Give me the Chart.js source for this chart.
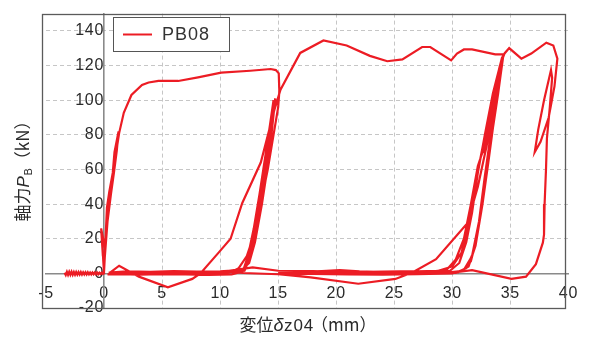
<!DOCTYPE html>
<html>
<head>
<meta charset="utf-8">
<title>PB08 軸力-変位</title>
<script src="https://cdn.jsdelivr.net/npm/chart.js@4/dist/chart.umd.min.js"></script>
<style>
  html, body { margin: 0; padding: 0; background: #fff; }
  canvas { display: block; }
</style>
</head>
<body>
<canvas id="c" width="589" height="341"></canvas>
<script>
// ---- data: axial force P_B (kN) vs displacement δz04 (mm), specimen PB08 ----
const SERIES_LABEL = 'PB08';

// drift before the first load cycle
const driftX = [-3.4, -3.3, -3.2, -3.1, -3.0, -2.9, -2.8, -2.7, -2.6, -2.5, -2.4, -2.3, -2.2, -2.1,
                -2.0, -1.9, -1.8, -1.7, -1.6, -1.5, -1.4, -1.3, -1.2, -1.1, -1.0, -0.9, -0.8, -0.7,
                -0.6, -0.5, -0.4, -0.3, -0.2, -0.1, 0];
const driftY = [0.4, -0.9, 0.9, -0.9, 0.9, -0.8, 0.9, -0.8, 0.8, -0.8, 0.8, -0.7, 0.7, -0.7,
                0.7, -0.7, 0.6, -0.6, 0.6, -0.6, 0.6, -0.6, 0.5, -0.6, 0.5, -0.5, 0.5, -0.5,
                0.5, -0.5, 0.4, -0.4, 0.4, -0.3, 0];

// small cycles at the origin, then yielding up to about 15 mm
const cycle1X = [0, -0.2, -0.1, -0.25, 0.1, 0.0, 0.25, 0.45, 0.75, 0.9, 1.25, 1.1, 0.85, 0.6, 0.3, 0.05,
                 0.1, 0.3, 0.5, 0.7, 1.0, 1.3, 1.7, 2.36, 3.27, 3.84, 4.69, 6.39, 8.1, 10.09, 12.6,
                 14.35, 14.8, 15.05, 15.1, 15.0];
const cycle1Y = [0, 22, 10, 26, 14, 1, 38, 47, 58, 70, 82, 71, 58, 46, 30, 8,
                 14, 34, 46, 56, 68, 81, 92.7, 103, 108.8, 110.2, 111.1, 111.1, 113.2, 115.9, 117,
                 118, 117.4, 115.5, 105, 96];

// unloading, slip back to the origin and two reloads near 12-15 mm
const cycle2X = [14.6, 14.1, 13.5, 12.9, 12.4, 11.9, 11.0, 9.0, 7.0, 5.0, 3.0, 1.5, 0.3,
                 1.5, 3.5, 5.5, 7.5, 9.5, 11.0, 11.6, 12.3, 12.8, 13.4, 13.9, 14.3, 14.6,
                 14.3, 13.9, 13.4, 12.9, 12.4, 12.0, 10.0, 8.0, 6.0, 4.0, 2.0, 0.4,
                 2.0, 4.0, 6.0, 8.0, 10.5, 11.8, 12.5, 13.0, 13.6, 14.1, 14.45, 14.75,
                 14.4, 14.0, 13.5, 13.0, 12.5, 12.1, 10.0, 8.0, 6.0, 4.0, 2.0, 0.5];
const cycle2Y = [80, 60, 40, 20, 8, 1, -0.6, -0.9, -0.6, -0.4, -0.7, -0.4, -0.6,
                 0.4, 0.2, 0.5, 0.3, 0.6, 1.0, 3, 10, 20, 40, 60, 80, 100,
                 86, 68, 46, 26, 10, 2, 1.2, 1.0, 1.3, 0.9, 1.1, 0.5,
                 0.0, -0.3, -0.2, -0.5, 0.4, 1.5, 6, 18, 40, 62, 82, 101,
                 85, 64, 42, 22, 8, 1.5, 0.2, -0.2, 0.1, -0.3, 0, -0.2];

// reload past the first peak onto the upper plateau
const cycle3X = [0.5, 1.3, 3.0, 5.5, 7.6, 8.3, 10.0, 10.9, 11.9, 13.5, 14.7, 15.2, 16.9, 18.9, 20.9,
                 22.9, 24.4, 25.7, 27.4, 28.1, 29.9, 30.4, 31.0, 31.7, 33.7, 34.4];
const cycle3Y = [0.3, 4.4, -1.9, -8, -3.2, 0, 13, 20, 40.5, 64, 95, 106, 127.3, 134.5, 131.6,
                 125.6, 122.5, 123.6, 130.7, 130.7, 123, 126.9, 129.3, 129.3, 126.5, 126.5];

// repeated unload / slip / reload cycles near 30-34 mm
const cycle4X = [33.9, 33.4, 32.9, 32.4, 31.8, 31.2, 30.3, 28.0, 25.0, 22.0, 20.3, 18.0, 16.0, 15.0,
                 17.0, 20.0, 23.0, 26.0, 28.5, 29.8, 30.6, 31.2, 31.7, 32.2, 32.8, 33.5, 34.3,
                 33.8, 33.3, 32.8, 32.3, 31.7, 31.0, 30.0, 27.0, 24.0, 21.0, 18.0, 16.5,
                 19.0, 22.0, 25.0, 28.0, 29.5, 30.3, 31.0, 31.6, 32.2, 32.6, 32.7, 33.1, 33.2, 33.7, 34.4,
                 33.9, 33.5, 33.0, 32.5, 32.0, 31.4, 30.5, 27.0, 24.0, 21.0, 18.0, 15.0, 12.8, 10.5,
                 12.0, 15.0, 17.8, 21.9, 25.1, 26.6, 28.6, 31.3, 32.2, 33.0, 33.6, 34.2, 34.4,
                 33.95, 33.5, 33.1, 32.6, 32.1, 31.6, 30.9, 29.0, 26.0, 23.0, 20.0, 17.0, 15.0,
                 17.0, 20.0, 23.0, 26.0, 28.8, 30.0, 30.8, 31.4, 32.0, 32.7, 33.4, 34.1, 34.5];
const cycle4Y = [105, 82, 58, 32, 12, 3, 0.3, 0.8, 0.5, 1.2, 1.9, 1.0, 0.8, 0.5,
                 0.2, -0.3, 0.2, 0.0, 0.6, 1.5, 6, 18, 35, 58, 80, 104, 125,
                 104, 80, 56, 30, 10, 2, 0, -0.5, -0.8, -0.6, -0.3, 0.0,
                 0.6, 0.9, 0.7, 0.9, 2, 8, 20, 40, 62, 70, 70, 87, 87, 106, 126,
                 102, 86, 62, 36, 16, 4, 0.5, 1.3, 1.0, 0.8, 1.3, 1.5, 3.4, 1.2,
                 0.2, -0.5, -2.3, -6, -3.2, 0.6, 8.2, 29, 50, 75, 100, 120, 126.5,
                 104, 84, 64, 40, 20, 7, 1.5, 0, 0.6, -0.4, 0.3, -0.4, 0,
                 0.5, 0.8, 0.4, 1.0, 1.5, 4, 12, 30, 52, 76, 100, 120, 127];

// last excursion to about 39 mm and final unloading
const cycle5X = [34.9, 35.95, 36.8, 38.1, 38.7, 39.05, 38.8, 38.3, 37.6, 37.1, 37.4, 37.9, 38.5,
                 38.6, 38.4, 38.15, 38.07, 37.95, 37.9, 37.8, 37.2, 36.35, 35.1, 31.7, 30.5, 29.5];
const cycle5Y = [130.1, 124, 126.9, 133.2, 131.6, 124, 108, 90, 76, 70, 83, 100, 117.4,
                 113, 96, 78, 60, 40, 22.4, 17.7, 5.3, -1.9, -3.2, 1.9, 0.8, 0.3];

// axis ticks and the extent of the plot frame
const X_TICKS = [-5, 0, 5, 10, 15, 20, 25, 30, 35, 40];
const Y_TICKS = [-20, 0, 20, 40, 60, 80, 100, 120, 140];
const FRAME_X = [-5.35, 39.75];
const FRAME_Y = [-20, 150];

// ---- build the single polyline from the stages above ----
function toPoints(xs, ys) { return xs.map((x, i) => ({ x: x, y: ys[i] })); }
const points = [].concat(
  toPoints(driftX, driftY),
  toPoints(cycle1X, cycle1Y),
  toPoints(cycle2X, cycle2Y),
  toPoints(cycle3X, cycle3Y),
  toPoints(cycle4X, cycle4Y),
  toPoints(cycle5X, cycle5Y)
);

const RED = '#ec1c24';
const LATIN = '"Liberation Sans", Arial, Helvetica, sans-serif';
const CJK = '"Noto Sans CJK JP", "Noto Sans", sans-serif';
const TRANSPARENT = 'rgba(0,0,0,0)';
const TICK_SPACING = '0.7px';

// draws a run of differently styled text pieces starting at (x, y)
function drawRuns(ctx, runs, x, y) {
  let cx = x;
  runs.forEach(r => {
    ctx.font = r.font;
    ctx.letterSpacing = r.spacing || '0px';
    ctx.fillText(r.text, cx, y + (r.dy || 0));
    cx += ctx.measureText(r.text).width + (r.gap || 0);
  });
  return cx - x;
}
function runsWidth(ctx, runs) {
  let w = 0;
  runs.forEach(r => {
    ctx.font = r.font;
    ctx.letterSpacing = r.spacing || '0px';
    w += ctx.measureText(r.text).width + (r.gap || 0);
  });
  return w;
}

const spacingPlugin = {
  id: 'spacing',
  beforeUpdate(chart) { chart.ctx.letterSpacing = TICK_SPACING; },
  beforeDraw(chart) { chart.ctx.letterSpacing = TICK_SPACING; }
};

const framePlugin = {
  id: 'frame',
  beforeDatasetsDraw(chart) {
    const { ctx, scales: { x, y } } = chart;
    const l = Math.round(x.getPixelForValue(FRAME_X[0])) + 0.5;
    const r = Math.round(x.getPixelForValue(FRAME_X[1])) + 0.5;
    const t = Math.round(y.getPixelForValue(FRAME_Y[1])) + 0.5;
    const b = Math.round(y.getPixelForValue(FRAME_Y[0])) + 0.5;
    ctx.save();
    ctx.strokeStyle = '#5a5a5a';
    ctx.lineWidth = 1.3;
    ctx.strokeRect(l, t, r - l, b - t);
    ctx.restore();
  }
};

const legendPlugin = {
  id: 'legendBox',
  afterDraw(chart) {
    const ctx = chart.ctx;
    const ds = chart.data.datasets[0];
    ctx.save();
    ctx.fillStyle = '#fff';
    ctx.fillRect(113, 17, 116, 34);
    ctx.strokeStyle = '#555';
    ctx.lineWidth = 1;
    ctx.strokeRect(113.5, 17.5, 116, 34);
    ctx.strokeStyle = ds.borderColor;
    ctx.lineWidth = 2;
    ctx.beginPath();
    ctx.moveTo(123, 34.5);
    ctx.lineTo(152, 34.5);
    ctx.stroke();
    ctx.fillStyle = '#333';
    ctx.textBaseline = 'middle';
    ctx.textAlign = 'left';
    ctx.font = '18px ' + LATIN;
    ctx.letterSpacing = '1px';
    ctx.fillText(ds.label, 162, 35.5);
    ctx.restore();
  }
};

const titlePlugin = {
  id: 'axisTitles',
  afterDraw(chart) {
    const ctx = chart.ctx;
    ctx.save();
    ctx.fillStyle = '#2a2a2a';
    ctx.textBaseline = 'alphabetic';
    ctx.textAlign = 'left';

    // x title: 変位 δz04（mm）
    const xRuns = [
      { text: '変位', font: '17px ' + CJK },
      { text: 'δ', font: 'italic 18px ' + LATIN, gap: 0.5 },
      { text: 'z04', font: '17px ' + LATIN, spacing: '0.8px', gap: -3 },
      { text: '（mm）', font: '17px ' + CJK }
    ];
    const xw = runsWidth(ctx, xRuns);
    drawRuns(ctx, xRuns, 308 - xw / 2, 331);

    // y title: 軸力 P_B（kN）, rotated
    const yRuns = [
      { text: '軸力', font: '17px ' + CJK },
      { text: 'P', font: 'italic 17px ' + LATIN, gap: 0.5 },
      { text: 'B', font: '11px ' + LATIN, dy: 3 },
      { text: '（kN）', font: '17px ' + CJK }
    ];
    const yw = runsWidth(ctx, yRuns);
    ctx.translate(29, 167);
    ctx.rotate(-Math.PI / 2);
    drawRuns(ctx, yRuns, -yw / 2, 0);
    ctx.restore();
  }
};

const tickFont = { family: LATIN, size: 16 };

new Chart(document.getElementById('c'), {
  type: 'scatter',
  data: {
    datasets: [{
      label: SERIES_LABEL,
      data: points,
      showLine: true,
      borderColor: RED,
      backgroundColor: RED,
      borderWidth: 2.2,
      pointRadius: 0,
      pointHoverRadius: 0,
      tension: 0,
      fill: false
    }]
  },
  options: {
    responsive: false,
    animation: false,
    devicePixelRatio: 1,
    layout: { padding: { left: 46, right: 15, top: 9, bottom: 33 } },
    plugins: {
      legend: { display: false },
      tooltip: { enabled: false },
      title: { display: false }
    },
    scales: {
      x: {
        type: 'linear',
        min: -5,
        max: 40,
        position: { y: 0 },
        afterBuildTicks: s => { s.ticks = X_TICKS.map(v => ({ value: v })); },
        grid: {
          drawTicks: false,
          lineWidth: 1,
          color: c => (c.tick && [-5, 0, 40].includes(c.tick.value)) ? TRANSPARENT : '#c6c6c6'
        },
        border: { display: true, color: '#8a8a8a', width: 1.6, dash: [4, 3] },
        ticks: {
          autoSkip: false,
          maxRotation: 0,
          padding: 11,
          color: '#2a2a2a',
          font: tickFont,
          callback: v => String(v)
        }
      },
      y: {
        type: 'linear',
        min: -20,
        max: 150,
        position: { x: 0 },
        afterBuildTicks: s => { s.ticks = Y_TICKS.map(v => ({ value: v })); },
        grid: {
          drawTicks: false,
          lineWidth: 1,
          color: c => (c.tick && [-20, 0].includes(c.tick.value)) ? TRANSPARENT : '#c6c6c6'
        },
        border: { display: true, color: '#8a8a8a', width: 1.6, dash: [4, 3] },
        ticks: {
          autoSkip: false,
          padding: 4,
          color: '#2a2a2a',
          font: tickFont,
          callback: v => String(v)
        }
      }
    }
  },
  plugins: [spacingPlugin, framePlugin, legendPlugin, titlePlugin]
});
</script>
</body>
</html>
